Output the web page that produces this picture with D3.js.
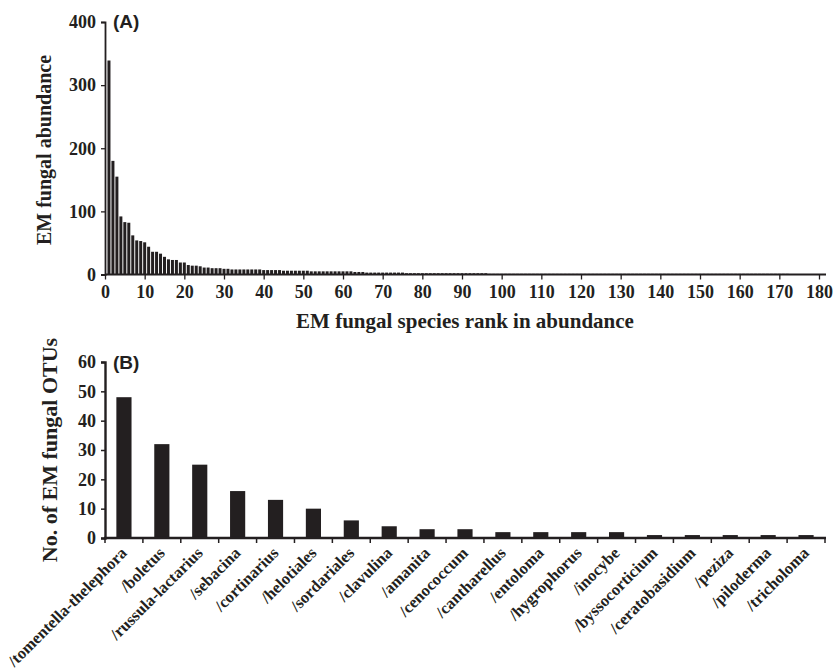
<!DOCTYPE html>
<html>
<head>
<meta charset="utf-8">
<script src="https://cdn.jsdelivr.net/npm/d3@7"></script>
<style>
  body { margin: 0; background: #fff; }
  svg text { font-family: "Liberation Serif", "Times New Roman", serif; font-weight: bold; fill: #231f20; }
  .panel-tag { font-family: "Liberation Sans", Arial, sans-serif; }
</style>
</head>
<body>
<div id="chart"></div>
<script>
// (A) abundance of each EM fungal species, by rank (rank 1 first)
const abundance = [
  339, 180, 155, 92, 83, 82, 62, 54, 53, 51,
  44, 36, 36, 33, 28, 24, 23, 23, 19, 19,
  15, 14, 14, 13, 11, 11, 10, 10, 10, 9,
  9, 8, 8, 8, 8, 8, 8, 8, 8, 7,
  7, 7, 7, 7, 6, 6, 6, 6, 6, 6,
  6, 5, 5, 5, 5, 5, 5, 5, 5, 5,
  5, 5, 4, 4, 4, 3, 3, 3, 3, 3,
  3, 3, 3, 3, 3, 2, 2, 2, 2, 2,
  2, 2, 2, 2, 2, 2, 2, 2, 2, 2,
  2, 2, 2, 2, 2, 2, 1, 1, 1, 1,
  1, 1, 1, 1, 1, 1, 1, 1, 1, 1,
  1, 1, 1, 1, 1, 1, 1, 1, 1, 1,
  1, 1, 1, 1, 1, 1, 1, 1, 1, 1,
  1, 1, 1, 1, 1, 1, 1, 1, 1, 1,
  1, 1, 1, 1, 1, 1, 1, 1, 1, 1,
  1, 1, 1, 1, 1, 1, 1, 1, 1, 1,
  1, 1, 1, 1, 1, 1, 1, 1, 1, 1,
  1, 1
];
const rankTicks = [0, 10, 20, 30, 40, 50, 60, 70, 80, 90, 100, 110, 120, 130, 140, 150, 160, 170, 180];
const abundanceTicks = [0, 100, 200, 300, 400];

// (B) number of OTUs per lineage
const lineages = ['/tomentella-thelephora', '/boletus', '/russula-lactarius', '/sebacina', '/cortinarius',
  '/helotiales', '/sordariales', '/clavulina', '/amanita', '/cenococcum', '/cantharellus', '/entoloma',
  '/hygrophorus', '/inocybe', '/byssocorticium', '/ceratobasidium', '/peziza', '/piloderma', '/tricholoma'];
const otuCounts = [48, 32, 25, 16, 13, 10, 6, 4, 3, 3, 2, 2, 2, 2, 1, 1, 1, 1, 1];
const otuTicks = [0, 10, 20, 30, 40, 50, 60];

const ink = '#231f20';
const width = 833, height = 670;

const svg = d3.select('#chart').append('svg')
  .attr('width', width)
  .attr('height', height);

// ---------- panel A ----------
const xA = d3.scaleLinear().domain([0, 180]).range([105, 819]);
const yA = d3.scaleLinear().domain([0, 400]).range([274.5, 22]);

svg.append('g').selectAll('rect')
  .data(abundance)
  .enter()
  .append('rect')
  .attr('x', (d, i) => xA(i + 1) - 1.5)
  .attr('width', 3)
  .attr('y', d => yA(d))
  .attr('height', d => yA(0) - yA(d))
  .attr('fill', ink);

const axAx = svg.append('g')
  .attr('transform', `translate(0,${yA(0)})`)
  .call(d3.axisBottom(xA).tickValues(rankTicks).tickSize(5).tickSizeOuter(0).tickPadding(6));
// axis line runs a little past the last tick, as in the figure
axAx.select('.domain').attr('d', `M${xA(0)},0H826`);
const axAy = svg.append('g')
  .attr('transform', `translate(${xA(0)},0)`)
  .call(d3.axisLeft(yA).tickValues(abundanceTicks).tickSize(4).tickPadding(5));

[axAx, axAy].forEach(g => {
  g.select('.domain').attr('stroke', ink).attr('stroke-width', 1.8);
  g.selectAll('.tick line').attr('stroke', ink).attr('stroke-width', 1.3);
  g.selectAll('.tick text').style('font-size', '18px').attr('fill', ink);
});

svg.append('text')
  .attr('x', 465).attr('y', 328)
  .attr('text-anchor', 'middle')
  .style('font-size', '21px')
  .text('EM fungal species rank in abundance');

svg.append('text')
  .attr('transform', 'translate(51,150) rotate(-90)')
  .attr('text-anchor', 'middle')
  .style('font-size', '20px')
  .text('EM fungal abundance');

svg.append('text')
  .attr('class', 'panel-tag')
  .attr('x', 113).attr('y', 28)
  .style('font-size', '19px')
  .text('(A)');

// ---------- panel B ----------
const xB = d3.scaleBand().domain(lineages).range([105, 825]).paddingInner(0.6).paddingOuter(0.3);
const yB = d3.scaleLinear().domain([0, 60]).range([538, 362]);

svg.append('g').selectAll('rect')
  .data(otuCounts)
  .enter()
  .append('rect')
  .attr('x', (d, i) => xB(lineages[i]))
  .attr('width', xB.bandwidth())
  .attr('y', d => yB(d))
  .attr('height', d => yB(0) - yB(d))
  .attr('fill', ink);

const axBy = svg.append('g')
  .attr('transform', 'translate(105,0)')
  .call(d3.axisLeft(yB).tickValues(otuTicks).tickSize(4).tickPadding(5));
axBy.select('.domain').attr('stroke', ink).attr('stroke-width', 2.4);
axBy.selectAll('.tick line').attr('stroke', ink).attr('stroke-width', 1.5);
axBy.selectAll('.tick text').style('font-size', '18px').attr('fill', ink);

// x axis with ticks at the band boundaries
const gBx = svg.append('g');
gBx.append('line')
  .attr('x1', 104).attr('x2', 826)
  .attr('y1', yB(0)).attr('y2', yB(0))
  .attr('stroke', ink).attr('stroke-width', 2.4);
gBx.selectAll('line.tk')
  .data(d3.range(lineages.length + 1))
  .enter()
  .append('line')
  .attr('class', 'tk')
  .attr('x1', i => 105 + i * (720 / lineages.length))
  .attr('x2', i => 105 + i * (720 / lineages.length))
  .attr('y1', yB(0)).attr('y2', yB(0) + 5)
  .attr('stroke', ink).attr('stroke-width', 1.5);

gBx.selectAll('text')
  .data(lineages)
  .enter()
  .append('text')
  .attr('text-anchor', 'end')
  .attr('transform', d => `translate(${xB(d) + xB.bandwidth() / 2 + 4},${yB(0) + 16}) rotate(-45)`)
  .style('font-size', '16.5px')
  .text(d => d);

svg.append('text')
  .attr('transform', 'translate(57,450) rotate(-90)')
  .attr('text-anchor', 'middle')
  .style('font-size', '22px')
  .text('No. of EM fungal OTUs');

svg.append('text')
  .attr('class', 'panel-tag')
  .attr('x', 113).attr('y', 369)
  .style('font-size', '19px')
  .text('(B)');
</script>
</body>
</html>
